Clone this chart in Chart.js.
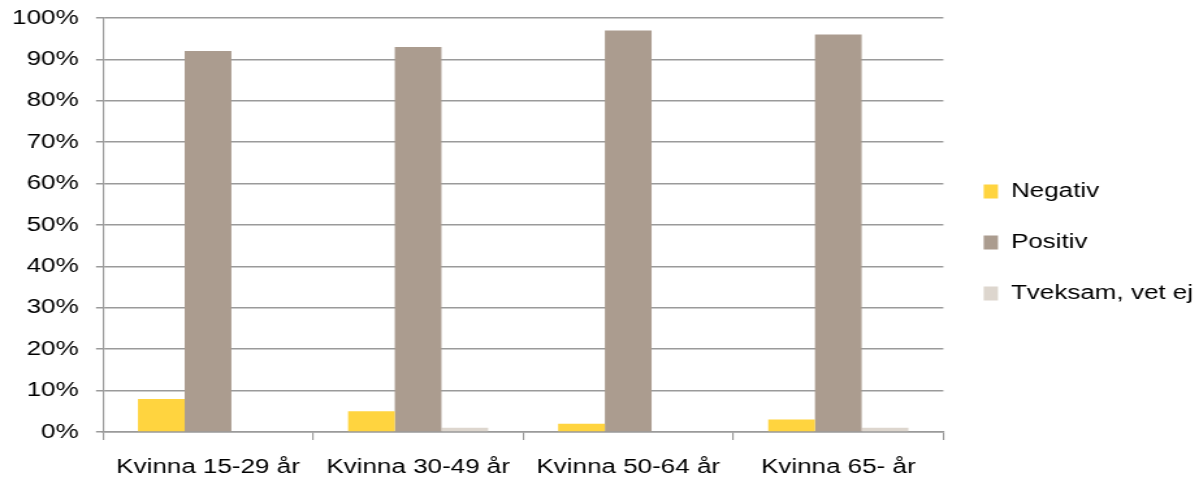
<!DOCTYPE html>
<html>
<head>
<meta charset="utf-8">
<script src="https://cdn.jsdelivr.net/npm/chart.js@4/dist/chart.umd.min.js"></script>
<style>
  html, body { margin: 0; padding: 0; background: #fff; overflow: hidden; }
  /* the reference is stretched sideways, so draw narrower and stretch */
  #wrap { width: 922px; height: 477px; transform: scaleX(1.30043); transform-origin: 0 0; }
</style>
</head>
<body>
<div id="wrap"><canvas id="miGrafico"></canvas></div>
<script>
const categories = ['Kvinna 15-29 år', 'Kvinna 30-49 år', 'Kvinna 50-64 år', 'Kvinna 65- år'];
const negativ = [8, 5, 2, 3];
const positiv = [92, 93, 97, 96];
const tveksam = [0, 1, 0, 1];
const seriesNames = ['Negativ', 'Positiv', 'Tveksam, vet ej'];

const FONT = 'Arial, "Liberation Sans", sans-serif';
const GRID = '#9a9a9a';

// keep legend box a fixed width so the plot ends where the reference does
const legendWidth = {
    id: 'legendWidth',
    beforeUpdate(chart) {
        const lg = chart.legend;
        if (lg && !lg._fixed) {
            const fit = lg.fit;
            lg.fit = function () { fit.call(this); this.width = 196.6; };
            lg._fixed = true;
        }
    }
};

const ctx = document.getElementById('miGrafico').getContext('2d');
new Chart(ctx, {
    type: 'bar',
    data: {
        labels: categories,
        datasets: [
            { label: seriesNames[0], data: negativ, backgroundColor: '#FFD43F', borderWidth: 0 },
            { label: seriesNames[1], data: positiv, backgroundColor: '#AB9C8F', borderWidth: 0 },
            { label: seriesNames[2], data: tveksam, backgroundColor: '#DDD6CE', borderWidth: 0 }
        ]
    },
    options: {
        responsive: true,
        maintainAspectRatio: false,
        animation: false,
        layout: { padding: { top: 8, left: 0, right: 0, bottom: 0 } },
        datasets: { bar: { categoryPercentage: 0.667, barPercentage: 1 } },
        plugins: {
            tooltip: { enabled: false },
            legend: {
                position: 'right',
                align: 'center',
                labels: {
                    boxWidth: 11,
                    boxHeight: 14,
                    padding: 31,
                    color: '#000',
                    font: { family: FONT, size: 20 }
                }
            }
        },
        scales: {
            x: {
                grid: { display: true, drawOnChartArea: false, offset: true, color: GRID, lineWidth: 1.15, tickLength: 8 },
                border: { display: true, color: GRID, width: 1.5 },
                ticks: { color: '#000', padding: 15.5, maxRotation: 0, font: { family: FONT, size: 20 } },
                afterFit(scale) { scale.height = 45; }
            },
            y: {
                min: 0,
                max: 100,
                grid: { color: GRID, lineWidth: 1.5, tickLength: 5.4 },
                border: { display: true, color: GRID, width: 1.15 },
                ticks: {
                    stepSize: 10,
                    color: '#000',
                    padding: 13.3,
                    font: { family: FONT, size: 20 },
                    callback: v => v + '%'
                },
                afterFit(scale) {
                    scale.width = 79.2;
                    scale.paddingTop = 18;
                    scale.paddingBottom = 0;
                }
            }
        }
    },
    plugins: [legendWidth]
});
</script>
</body>
</html>
